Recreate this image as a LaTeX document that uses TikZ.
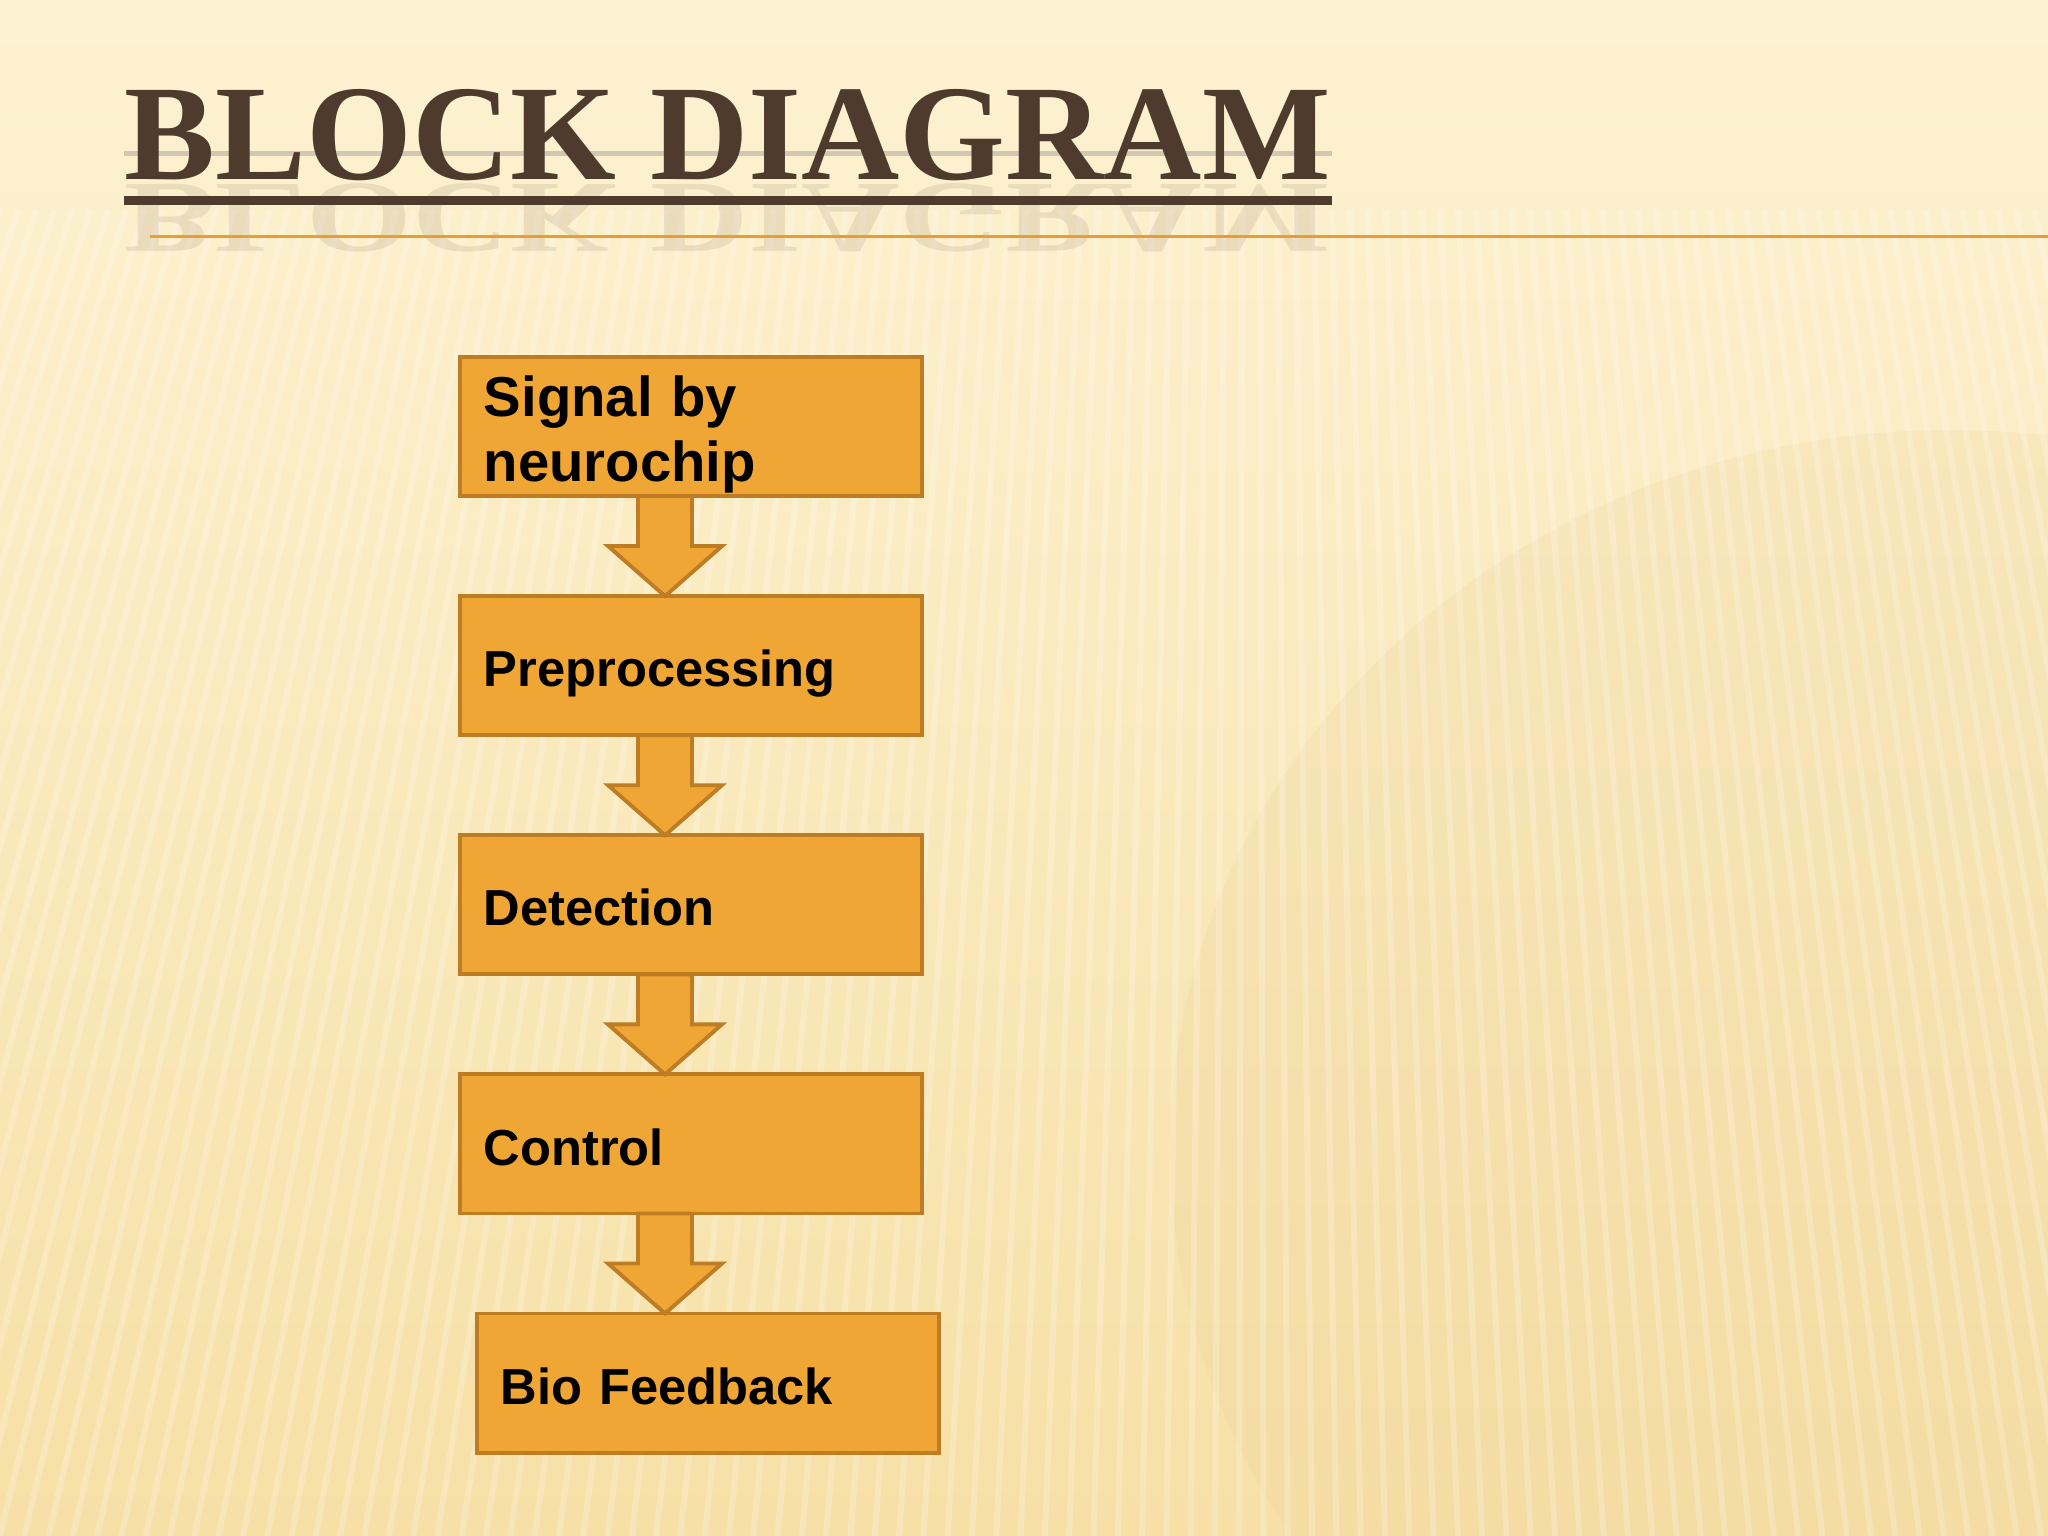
\documentclass[tikz,border=0pt]{standalone}
\usepackage{fontspec}
\setmainfont{Liberation Serif}
\setsansfont{Liberation Sans}
\usetikzlibrary{calc,positioning}

\definecolor{bgtop}{RGB}{253,242,210}
\definecolor{bgbot}{RGB}{246,224,166}
\definecolor{titlebrown}{RGB}{79,59,45}
\definecolor{boxfill}{RGB}{240,166,52}
\definecolor{boxline}{RGB}{190,124,36}
\definecolor{ruleorange}{RGB}{232,158,48}

% fat block arrow from the lower side of #1 to the top of #2
\newcommand{\fatarrow}[2]{%
  \coordinate (s) at ($(#1.south)+(-26,0)$);
  \coordinate (t) at (s |- #2.north);
  \draw[flowarrow] ($(s)+(-27,0)$) -- ($(s)+(-27,50)$) -- ($(s)+(-57,50)$) -- (t)
    -- ($(s)+(57,50)$) -- ($(s)+(27,50)$) -- ($(s)+(27,0)$) -- cycle;
}

\begin{document}
\begin{tikzpicture}[x=0.01cm, y=-0.01cm,
    blockbox/.style={draw=boxline, fill=boxfill, line width=1.1pt, rectangle,
      minimum width=4.62cm, minimum height=1.39cm, outer sep=0pt,
      inner xsep=0.24cm, text width=4.14cm, align=left,
      font=\sffamily\bfseries\fontsize{14.4}{18.5}\selectfont},
    oneline/.style={blockbox, text height=12pt, text depth=0pt},
    flowarrow/.style={draw=boxline, fill=boxfill, line width=1.1pt, line join=miter},
    node distance=1cm]

    % background
    \useasboundingbox (0,0) rectangle (2048,1536);
    \shade[top color=bgtop, bottom color=bgbot] (0,0) rectangle (2048,1536);
    \fill[bgbot!80!brown, opacity=.18] (1950,1150) ellipse [x radius=780, y radius=720];
    \foreach \x in {0,18,...,2100}
        \draw[white, opacity=.22, line width=0.06cm] (\x,210) -- ({1250+(\x-1250)*1.35},1536);

    % title
    \draw[gray, opacity=.35, line width=0.05cm] (124,153) -- (1332,153);
    \node[anchor=base west, inner sep=0pt, text=titlebrown, text opacity=.1,
      font=\fontsize{38.7}{40}\selectfont\bfseries] (mirror) at (124,184)
      {\scalebox{1}[-0.75]{BLOCK DIAGRAM}};
    \node[anchor=base west, inner sep=0pt, text=titlebrown,
      font=\fontsize{38.7}{40}\selectfont\bfseries] (title) at (124,179) {BLOCK DIAGRAM};
    \fill[titlebrown] (124,196) rectangle (1332,205);
    \draw[ruleorange, line width=0.03cm] (150,236) -- (2048,236);

    % blocks
    \node[blockbox, inner ysep=0pt, font=\sffamily\bfseries\fontsize{16}{18.5}\selectfont]
      (signal) at (691,426.5) {\rule{0pt}{16.2pt}Signal by\\neurochip};
    \node[oneline, below=of signal] (prep) {Preprocessing};
    \node[oneline, below=of prep] (detect) {Detection};
    \node[oneline, below=of detect] (control) {Control};
    \node[oneline, below=of control, xshift=0.17cm] (bio) {Bio Feedback};

    \fatarrow{signal}{prep}
    \fatarrow{prep}{detect}
    \fatarrow{detect}{control}
    \fatarrow{control}{bio}

\end{tikzpicture}
\end{document}
